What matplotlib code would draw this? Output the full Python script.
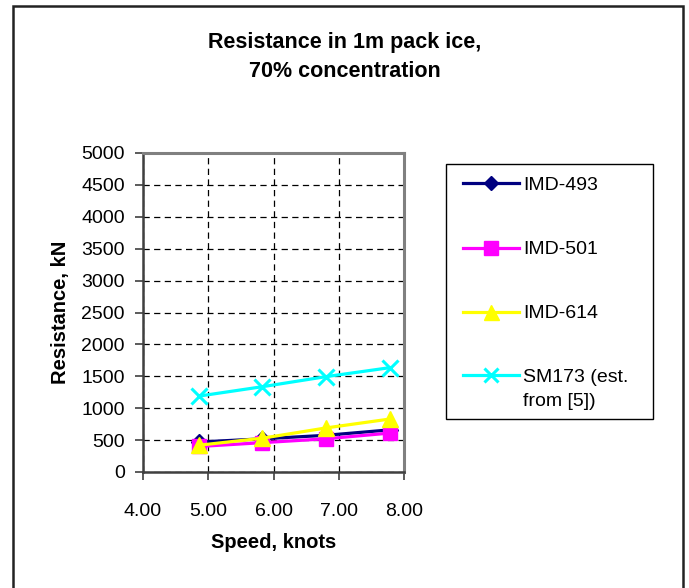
import matplotlib
matplotlib.use("Agg")
import matplotlib.pyplot as plt
from matplotlib.patches import Rectangle
from matplotlib.lines import Line2D

plt.rcParams['font.family'] = ['Liberation Sans', 'DejaVu Sans']

speed = [4.86, 5.83, 6.80, 7.78]
imd493 = [470, 520, 575, 660]
imd501 = [400, 460, 520, 610]
imd614 = [420, 530, 690, 830]
sm173 = [1190, 1337, 1494, 1635]
labels = ["IMD-493", "IMD-501", "IMD-614", "SM173 (est.\nfrom [5])"]
xticks = [4.0, 5.0, 6.0, 7.0, 8.0]
yticks = list(range(0, 5001, 500))

W, H = 689, 588
fig = plt.figure(figsize=(W / 100, H / 100), dpi=100)
fig.patch.set_facecolor('white')


def fx(px):
    return px / W


def fy(py):
    return 1 - py / H


# outer chart border
fig.add_artist(Rectangle((fx(12.5), -0.05), fx(683 - 12.5), 1.05 - 6.5 / H,
                         transform=fig.transFigure, fill=False,
                         edgecolor='#222222', linewidth=1.8))

ax = fig.add_axes([fx(143), fy(472), fx(404 - 143), (472 - 153) / H])

series = [imd493, imd501, imd614, sm173]
colors = ['#000080', '#FF00FF', '#FFFF00', '#00FFFF']
markers = ['D', 's', '^', 'x']
msizes = [8, 10.5, 12, 11]
for vals, c, m, ms, lab in zip(series, colors, markers, msizes, labels):
    ax.plot(speed, vals, color=c, marker=m, markersize=ms,
            markeredgewidth=2.2 if m == 'x' else 1.0,
            markerfacecolor=c, markeredgecolor=c,
            linewidth=2.3, label=lab, clip_on=False, zorder=3)

ax.set_xlim(4.0, 8.0)
ax.set_ylim(0, 5000)
ax.set_xticks(xticks)
ax.set_xticklabels([f"{v:.2f}" for v in xticks])
ax.set_yticks(yticks)
ax.grid(True, color='black', linestyle=(0, (5, 3.5)), linewidth=0.9)
ax.set_axisbelow(True)

for s in ['top', 'right']:
    ax.spines[s].set_color('#808080')
    ax.spines[s].set_linewidth(2.2)
for s in ['left', 'bottom']:
    ax.spines[s].set_color('#404040')
    ax.spines[s].set_linewidth(1.8)

ax.tick_params(axis='both', direction='out', length=6, width=1.2,
               color='#404040', labelsize=14, labelcolor='black')
ax.tick_params(axis='x', pad=16)
ax.tick_params(axis='y', pad=7)

ax.set_xlabel("Speed, knots", fontsize=14.5, fontweight='bold', labelpad=10)
ax.set_ylabel("Resistance, kN", fontsize=14.5, fontweight='bold', labelpad=8)

fig.text(fx(345), fy(57), "Resistance in 1m pack ice,\n70% concentration",
         ha='center', va='center', fontsize=15.5, fontweight='bold',
         linespacing=1.5)

# legend (drawn in figure pixel positions)
fig.add_artist(Rectangle((fx(446), fy(419)), fx(653 - 446), (419 - 164) / H,
                         transform=fig.transFigure, fill=True,
                         facecolor='white', edgecolor='black', linewidth=1.0))
row_y = [183, 248, 312, 375]
for c, m, ms, lab, yy in zip(colors, markers, msizes, labels, row_y):
    fig.add_artist(Line2D([fx(463), fx(519)], [fy(yy), fy(yy)],
                          transform=fig.transFigure, color=c, linewidth=2.3))
    fig.add_artist(Line2D([fx(491)], [fy(yy)], transform=fig.transFigure,
                          marker=m, markersize=ms * 0.9, color=c,
                          markerfacecolor=c, markeredgecolor=c,
                          markeredgewidth=2.2 if m == 'x' else 1.0,
                          linestyle='none'))
    for i, line in enumerate(lab.split('\n')):
        fig.text(fx(523), fy(yy + 25 * i), line, ha='left',
                 va='center_baseline', fontsize=14)

fig.savefig("out.png", dpi=100, facecolor='white')
